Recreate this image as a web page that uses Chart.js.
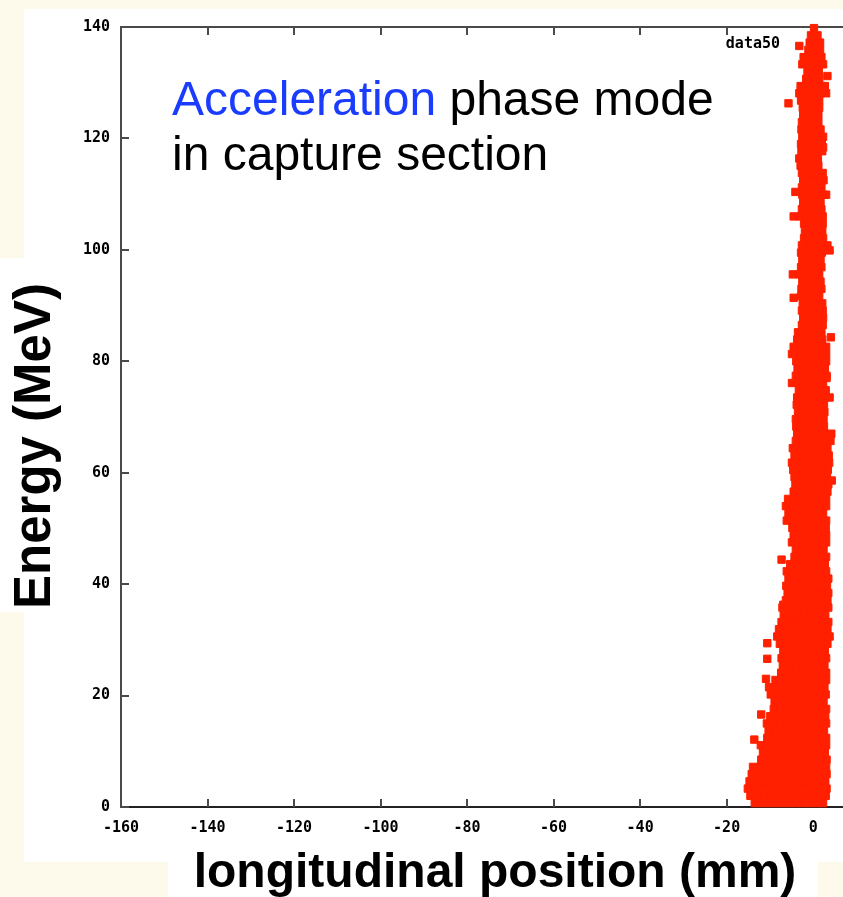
<!DOCTYPE html>
<html>
<head>
<meta charset="utf-8">
<title>Acceleration phase mode in capture section</title>
<script src="https://cdn.jsdelivr.net/npm/chart.js@4.4.1/dist/chart.umd.min.js"></script>
<style>
  html, body { margin: 0; padding: 0; overflow: hidden; background: #fefaeb; }
  canvas { display: block; }
</style>
</head>
<body>
<canvas id="phase-chart" width="843" height="897"></canvas>
<script>
// ── DATA ──
const seriesName = 'data50';
const xTicks = [-160, -140, -120, -100, -80, -60, -40, -20, 0];
const yTicks = [0, 20, 40, 60, 80, 100, 120, 140];

// energy (MeV) of each scanned row of the particle cloud
const energyRows = [
    0.7, 2.0, 3.3, 4.6, 5.9, 7.2, 8.5, 9.8, 11.1, 12.4,
    13.7, 15.0, 16.3, 17.6, 18.9, 20.2, 21.5, 22.8, 24.1, 25.4,
    26.7, 28.0, 29.3, 30.6, 31.9, 33.2, 34.5, 35.8, 37.1, 38.4,
    39.7, 41.0, 42.3, 43.6, 44.9, 46.2, 47.5, 48.8, 50.1, 51.4,
    52.7, 54.0, 55.3, 56.6, 57.9, 59.2, 60.5, 61.8, 63.1, 64.4,
    65.7, 67.0, 68.3, 69.6, 70.9, 72.2, 73.5, 74.8, 76.1, 77.4,
    78.7, 80.0, 81.3, 82.6, 83.9, 85.2, 86.5, 87.8, 89.1, 90.4,
    91.7, 93.0, 94.3, 95.6, 96.9, 98.2, 99.5, 100.8, 102.1, 103.4,
    104.7, 106.0, 107.3, 108.6, 109.9, 111.2, 112.5, 113.8, 115.1, 116.4,
    117.7, 119.0, 120.3, 121.6, 122.9, 124.2, 125.5, 126.8, 128.1, 129.4,
    130.7, 132.0, 133.3, 134.6, 135.9, 137.2, 138.5, 139.8
];

// longitudinal positions (mm) of the particles in each row
const positionRows = [
    [-13.5, -11.9, -10.3, -8.7, -7.1, -5.5, -3.9, -2.3, -0.7, 0.9, 2.3],
    [-14.5, -12.9, -11.3, -9.8, -8.2, -6.6, -5.0, -3.4, -1.8, -0.2, 1.4, 2.9],
    [-15.1, -13.6, -12.0, -10.4, -8.8, -7.2, -5.6, -4.0, -2.4, -0.8, 0.8, 2.4, 3.1],
    [-14.7, -13.1, -11.5, -9.9, -8.3, -6.7, -5.1, -3.5, -1.9, -0.3, 1.3, 2.8],
    [-14.2, -12.6, -11.0, -9.4, -7.8, -6.2, -4.6, -3.0, -1.4, 0.2, 1.8, 3.1],
    [-13.9, -12.3, -10.7, -9.1, -7.5, -5.9, -4.3, -2.7, -1.1, 0.5, 2.1, 3.0],
    [-12.0, -10.4, -8.8, -7.2, -5.6, -4.0, -2.4, -0.8, 0.8, 2.4, 3.1],
    [-11.6, -10.0, -8.4, -6.8, -5.2, -3.6, -2.0, -0.4, 1.2, 2.7],
    [-12.1, -10.5, -8.9, -7.3, -5.7, -4.1, -2.5, -0.9, 0.7, 2.3, 3.0],
    [-10.6, -9.0, -7.4, -5.8, -4.2, -2.6, -1.0, 0.6, 2.2, 3.0],
    [-10.3, -8.7, -7.1, -5.5, -3.9, -2.3, -0.7, 0.9, 2.5],
    [-10.7, -9.1, -7.5, -5.9, -4.3, -2.7, -1.1, 0.5, 2.1, 3.0],
    [-9.9, -8.3, -6.7, -5.1, -3.5, -1.9, -0.3, 1.3, 2.8],
    [-9.1, -7.5, -5.9, -4.3, -2.7, -1.1, 0.5, 2.1, 3.0],
    [-8.8, -7.2, -5.6, -4.0, -2.4, -0.8, 0.8, 2.4],
    [-9.8, -8.2, -6.6, -5.0, -3.4, -1.8, -0.2, 1.4, 2.9],
    [-10.2, -8.6, -7.0, -5.4, -3.8, -2.2, -0.6, 1.0, 2.6],
    [-8.7, -7.1, -5.5, -3.9, -2.3, -0.7, 0.9, 2.5, 3.0],
    [-7.4, -5.8, -4.2, -2.6, -1.0, 0.6, 2.2, 3.0],
    [-7.0, -5.4, -3.8, -2.2, -0.6, 1.0, 2.6],
    [-7.3, -5.7, -4.1, -2.5, -0.9, 0.7, 2.3, 3.0],
    [-6.9, -5.3, -3.7, -2.1, -0.5, 1.1, 2.7],
    [-7.7, -6.1, -4.5, -2.9, -1.3, 0.3, 1.9, 3.3],
    [-8.3, -6.7, -5.1, -3.5, -1.9, -0.3, 1.3, 2.9, 3.8],
    [-7.9, -6.3, -4.7, -3.1, -1.5, 0.1, 1.7, 3.3],
    [-7.3, -5.7, -4.1, -2.5, -0.9, 0.7, 2.3, 3.5],
    [-6.8, -5.2, -3.6, -2.0, -0.4, 1.2, 2.8],
    [-7.1, -5.5, -3.9, -2.3, -0.7, 0.9, 2.5, 3.5],
    [-6.3, -4.7, -3.1, -1.5, 0.1, 1.7, 3.3],
    [-5.9, -4.3, -2.7, -1.1, 0.5, 2.1, 3.5],
    [-6.2, -4.6, -3.0, -1.4, 0.2, 1.8, 3.2],
    [-5.7, -4.1, -2.5, -0.9, 0.7, 2.3, 3.5],
    [-6.1, -4.5, -2.9, -1.3, 0.3, 1.9, 3.0],
    [-5.3, -3.7, -2.1, -0.5, 1.1, 2.7],
    [-4.3, -2.7, -1.1, 0.5, 2.1, 3.0],
    [-4.0, -2.4, -0.8, 0.8, 2.4],
    [-4.9, -3.3, -1.7, -0.1, 1.5, 3.0],
    [-4.5, -2.9, -1.3, 0.3, 1.9, 3.0],
    [-4.8, -3.2, -1.6, 0.0, 1.6, 2.9],
    [-6.1, -4.5, -2.9, -1.3, 0.3, 1.9, 3.0],
    [-5.7, -4.1, -2.5, -0.9, 0.7, 2.3],
    [-6.3, -4.7, -3.1, -1.5, 0.1, 1.7, 3.0],
    [-5.8, -4.2, -2.6, -1.0, 0.6, 2.2, 3.0],
    [-4.5, -2.9, -1.3, 0.3, 1.9, 3.3],
    [-4.1, -2.5, -0.9, 0.7, 2.3, 3.5],
    [-4.3, -2.7, -1.1, 0.5, 2.1, 3.2],
    [-4.6, -3.0, -1.4, 0.2, 1.8, 3.4],
    [-4.9, -3.3, -1.7, -0.1, 1.5, 3.1, 3.7],
    [-4.3, -2.7, -1.1, 0.5, 2.1, 3.6],
    [-4.7, -3.1, -1.5, 0.1, 1.7, 3.3],
    [-4.0, -2.4, -0.8, 0.8, 2.4, 4.0],
    [-3.7, -2.1, -0.5, 1.1, 2.7, 4.2],
    [-3.9, -2.3, -0.7, 0.9, 2.5],
    [-4.0, -2.4, -0.8, 0.8, 2.4],
    [-3.5, -1.9, -0.3, 1.3, 2.6],
    [-3.8, -2.2, -0.6, 1.0, 2.5],
    [-3.7, -2.1, -0.5, 1.1, 2.7, 3.8],
    [-3.3, -1.7, -0.1, 1.5, 2.9],
    [-4.9, -3.3, -1.7, -0.1, 1.5, 2.3],
    [-4.0, -2.4, -0.8, 0.8, 2.4, 3.1],
    [-3.6, -2.0, -0.4, 1.2, 2.7],
    [-3.9, -2.3, -0.7, 0.9, 2.5, 3.0],
    [-4.9, -3.3, -1.7, -0.1, 1.5, 3.0],
    [-4.5, -2.9, -1.3, 0.3, 1.9, 3.0],
    [-3.7, -2.1, -0.5, 1.1, 2.1],
    [-3.5, -1.9, -0.3, 1.3, 1.9],
    [-2.6, -1.0, 0.6, 2.2],
    [-2.3, -0.7, 0.9, 2.3],
    [-2.6, -1.0, 0.6, 2.2],
    [-2.4, -0.8, 0.8, 2.1],
    [-2.8, -1.2, 0.4, 1.4],
    [-2.7, -1.1, 0.5, 1.9],
    [-2.5, -0.9, 0.7, 1.7],
    [-4.7, -3.1, -1.5, 0.1, 1.4],
    [-2.8, -1.2, 0.4, 1.9],
    [-2.5, -0.9, 0.7, 1.7],
    [-2.8, -1.2, 0.4, 2.0],
    [-2.6, -1.0, 0.6, 2.2, 3.3],
    [-2.1, -0.5, 1.1, 2.3],
    [-1.9, -0.3, 1.3, 2.1],
    [-2.1, -0.5, 1.1, 2.2],
    [-4.5, -2.9, -1.3, 0.3, 1.9, 2.2],
    [-2.6, -1.0, 0.6, 1.9],
    [-2.3, -0.7, 0.9, 1.7],
    [-2.5, -0.9, 0.7, 2.3, 3.0],
    [-2.6, -1.0, 0.6, 1.9],
    [-2.3, -0.7, 0.9, 2.4],
    [-2.6, -1.0, 0.6, 2.2],
    [-2.9, -1.3, 0.3, 1.2],
    [-3.2, -1.6, 0.0, 1.1],
    [-2.7, -1.1, 0.5, 2.1],
    [-2.8, -1.2, 0.4, 2.0],
    [-2.5, -0.9, 0.7, 2.3],
    [-2.7, -1.1, 0.5, 1.7],
    [-2.6, -1.0, 0.6, 1.2],
    [-2.3, -0.7, 0.9, 1.2],
    [-2.4, -0.8, 0.8, 1.4],
    [-2.8, -1.2, 0.4, 1.4],
    [-3.2, -1.6, 0.0, 1.6, 3.0],
    [-2.9, -1.3, 0.3, 1.9, 2.7],
    [-1.6, 0.0, 1.4],
    [-1.3, 0.2, 1.3],
    [-2.5, -0.9, 0.7, 2.3],
    [-2.2, -0.6, 1.0, 1.9],
    [-1.1, 0.5, 1.6],
    [-0.8, 0.8, 1.6],
    [-0.5, 1.0],
    [0.2]
];

// isolated particles away from the core, [position mm, energy MeV]
const strayPoints = [
    [-13.6, 12.1], [-12.0, 16.6], [-10.9, 23.0], [-10.6, 26.6], [-10.6, 29.4],
    [-7.3, 44.4], [-4.5, 91.4], [-5.7, 126.3], [-3.2, 136.6],
    [3.1, 77.0], [2.3, 118.4], [3.8, 99.9],
    [-8.9, 19.0], [-6.9, 36.3], [4.3, 58.6], [4.1, 84.3], [-4.1, 110.4], [3.3, 131.2]
];

// slide texts
const noteHighlight = 'Acceleration';
const noteRest      = 'phase mode';
const noteLine2     = 'in capture section';
const xTitle        = 'longitudinal position (mm)';
const yTitle        = 'Energy (MeV)';

// ── STYLE ──
const CREAM   = '#fefaeb';
const RED     = '#ff2000';
const BLUE    = '#1a3cff';
const AXIS    = '#4a4a4a';
const TICK_FONT = { family: "'DejaVu Sans Mono', monospace", size: 15, weight: 'bold' };

const points = energyRows.flatMap((e, i) => positionRows[i].map(x => ({ x, y: e })))
    .concat(strayPoints.map(([x, y]) => ({ x, y })));

// slide background, inward gnuplot ticks, titles and the note
const slidePlugin = {
    id: 'slide',
    beforeDraw(chart) {
        const { ctx, width, height } = chart;
        ctx.save();
        ctx.fillStyle = CREAM;
        ctx.fillRect(0, 0, width, height);
        ctx.fillStyle = '#ffffff';
        ctx.fillRect(24, 9, width - 24, 853);   // plot panel
        ctx.fillRect(0, 258, 70, 354);          // y title box
        ctx.fillRect(168, 862, 650, 35);        // x title box
        ctx.restore();
    },
    beforeDatasetsDraw(chart) {
        const { ctx, chartArea: a, scales: { x, y } } = chart;
        ctx.save();
        ctx.strokeStyle = AXIS;
        ctx.lineWidth = 2;
        ctx.beginPath();
        ctx.moveTo(a.left, a.top);
        ctx.lineTo(a.right, a.top);
        x.ticks.forEach(t => {
            const px = Math.round(x.getPixelForValue(t.value));
            ctx.moveTo(px, a.bottom); ctx.lineTo(px, a.bottom - 8);
            ctx.moveTo(px, a.top);    ctx.lineTo(px, a.top + 8);
        });
        y.ticks.forEach(t => {
            const py = Math.round(y.getPixelForValue(t.value));
            ctx.moveTo(a.left, py); ctx.lineTo(a.left + 8, py);
        });
        ctx.stroke();
        ctx.restore();
    },
    afterDraw(chart) {
        const ctx = chart.ctx;
        ctx.save();

        // key
        ctx.font = "bold 15px 'DejaVu Sans Mono', monospace";
        ctx.fillStyle = '#000';
        ctx.textAlign = 'right';
        ctx.textBaseline = 'alphabetic';
        ctx.fillText(seriesName, 780, 48);

        // note
        ctx.textAlign = 'left';
        ctx.font = "48px 'Liberation Sans', Arial, sans-serif";
        ctx.fillStyle = BLUE;
        ctx.fillText(noteHighlight, 172, 115);
        const w = ctx.measureText(noteHighlight + ' ').width;
        ctx.fillStyle = '#000';
        ctx.fillText(noteRest, 172 + w, 115);
        ctx.fillText(noteLine2, 172, 170);

        // axis titles
        ctx.textAlign = 'center';
        ctx.font = "bold 48px 'Liberation Sans', Arial, sans-serif";
        ctx.fillText(xTitle, 495, 887);

        ctx.translate(50, 446);
        ctx.rotate(-Math.PI / 2);
        ctx.font = "bold 51px 'Liberation Sans', Arial, sans-serif";
        ctx.fillText(yTitle, 0, 0);

        ctx.restore();
    }
};

new Chart(document.getElementById('phase-chart'), {
    type: 'scatter',
    data: {
        datasets: [{
            label: seriesName,
            data: points,
            pointStyle: 'rect',
            pointRadius: 5.2,
            pointHoverRadius: 5.2,
            backgroundColor: RED,
            borderColor: RED,
            borderWidth: 1,
            clip: false
        }]
    },
    options: {
        responsive: false,
        animation: false,
        devicePixelRatio: 1,
        events: [],
        layout: { autoPadding: false, padding: { top: 27, right: 0, bottom: 0, left: 0 } },
        plugins: {
            legend:  { display: false },
            tooltip: { enabled: false }
        },
        scales: {
            x: {
                type: 'linear',
                min: -160,
                max: 6.9,
                afterBuildTicks: s => { s.ticks = xTicks.map(v => ({ value: v })); },
                afterFit: s => { s.height = 90; },
                grid:   { drawOnChartArea: false, drawTicks: false },
                border: { color: '#222', width: 2 },
                ticks:  {
                    padding: 12, autoSkip: false, maxRotation: 0,
                    font: TICK_FONT, color: '#000',
                    callback: v => String(v)
                }
            },
            y: {
                type: 'linear',
                min: 0,
                max: 140,
                afterBuildTicks: s => { s.ticks = yTicks.map(v => ({ value: v })); },
                afterFit: s => { s.width = 121; },
                grid:   { drawOnChartArea: false, drawTicks: false },
                border: { color: AXIS, width: 2 },
                ticks:  {
                    padding: 11, font: TICK_FONT, color: '#000',
                    callback: v => String(v)
                }
            }
        }
    },
    plugins: [slidePlugin]
});
</script>
</body>
</html>
